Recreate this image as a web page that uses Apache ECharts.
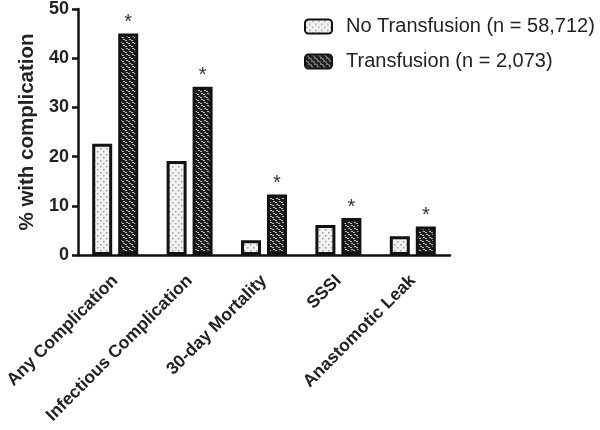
<!DOCTYPE html>
<html>
<head>
<meta charset="utf-8">
<script src="https://cdn.jsdelivr.net/npm/echarts@6/dist/echarts.min.js"></script>
<style>html,body{margin:0;padding:0;background:#fff}#c{width:600px;height:430px}</style>
</head>
<body>
<div id="c"></div>
<script>
const categories = ['Any Complication', 'Infectious Complication', '30-day Mortality', 'SSSI', 'Anastomotic Leak'];
const noTransfusion = [22.6, 19.1, 3.0, 6.1, 3.8];
const transfusion = [45.0, 34.2, 12.3, 7.5, 5.8];
const seriesNames = ['No Transfusion (n = 58,712)', 'Transfusion (n = 2,073)'];
const yTicks = [0, 10, 20, 30, 40, 50];

function dotPattern() {
  const c = document.createElement('canvas');
  c.width = 6; c.height = 6;
  const g = c.getContext('2d');
  g.fillStyle = '#f2f2f2'; g.fillRect(0, 0, 6, 6);
  g.fillStyle = '#9a9a9a';
  g.fillRect(1, 1, 1.5, 1.5);
  g.fillRect(4, 4, 1.5, 1.5);
  return c;
}
function darkPattern() {
  const c = document.createElement('canvas');
  c.width = 6; c.height = 6;
  const g = c.getContext('2d');
  g.fillStyle = '#1e1e1e'; g.fillRect(0, 0, 6, 6);
  g.fillStyle = '#bdbdbd';
  g.fillRect(0, 0, 2, 1); g.fillRect(2, 1, 2, 1);
  g.fillRect(3, 3, 2, 1); g.fillRect(5, 4, 1, 1); g.fillRect(0, 4, 1, 1);
  return c;
}

const chart = echarts.init(document.getElementById('c'), null, {renderer: 'canvas'});
const font = 'Liberation Sans, Arial, Helvetica, sans-serif';
chart.setOption({
  animation: false,
  textStyle: {fontFamily: font},
  legend: {
    orient: 'vertical', left: 304, top: 15, padding: 0,
    itemWidth: 27, itemHeight: 14, itemGap: 12,
    textStyle: {fontSize: 20, color: '#222', fontFamily: font, lineHeight: 23, padding: [0, 0, 0, 9]},
    data: seriesNames
  },
  grid: {left: 78, right: 150, top: 8, bottom: 175},
  xAxis: {
    type: 'category', data: categories,
    axisLine: {lineStyle: {color: '#111', width: 2.5}},
    axisTick: {alignWithLabel: true, length: 6, lineStyle: {color: '#111', width: 2.5}},
    axisLabel: {rotate: 45, interval: 0, fontSize: 17.5, fontWeight: 'bold', color: '#222', margin: 23}
  },
  yAxis: {
    type: 'value', min: yTicks[0], max: yTicks[yTicks.length - 1], interval: 10,
    name: '% with complication', nameLocation: 'middle', nameGap: 33,
    nameTextStyle: {fontSize: 20.5, fontWeight: 'bold', color: '#222'},
    splitLine: {show: false},
    axisLine: {show: true, lineStyle: {color: '#111', width: 2.5}},
    axisTick: {show: true, length: 6, lineStyle: {color: '#111', width: 2.5}},
    axisLabel: {fontSize: 18, fontWeight: 'bold', color: '#222', margin: 9}
  },
  series: [
    {
      name: seriesNames[0], type: 'bar', data: noTransfusion,
      barWidth: 20, barGap: '30%',
      itemStyle: {color: {image: dotPattern(), repeat: 'repeat'}, borderColor: '#111', borderWidth: 3}
    },
    {
      name: seriesNames[1], type: 'bar', data: transfusion,
      barWidth: 20,
      itemStyle: {color: {image: darkPattern(), repeat: 'repeat'}, borderColor: '#111', borderWidth: 3},
      label: {show: true, position: 'top', formatter: '*', fontSize: 20, color: '#333', distance: 1}
    }
  ]
});
</script>
</body>
</html>
